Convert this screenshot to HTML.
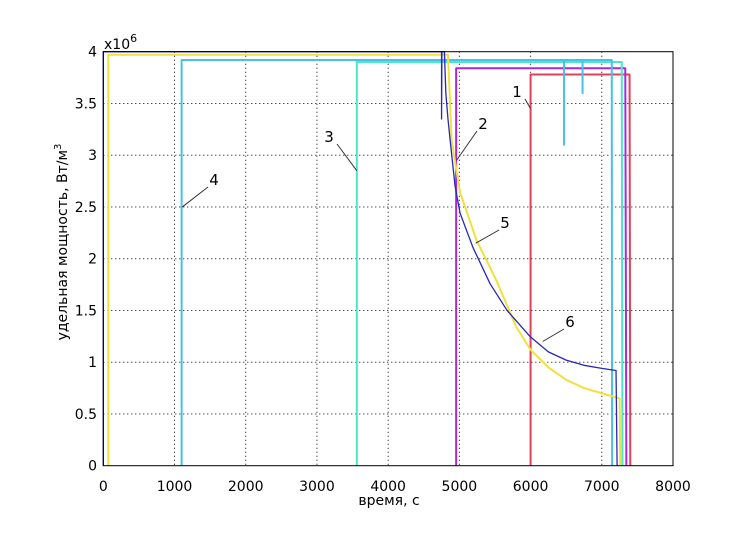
<!DOCTYPE html>
<html><head><meta charset="utf-8"><style>
body{margin:0;background:#fff;}
svg text{font-family:"DejaVu Sans","Liberation Sans",sans-serif;}
</style></head><body>
<svg id="chart" width="743" height="530" viewBox="0 0 743 530" xmlns="http://www.w3.org/2000/svg">
<rect width="743" height="530" fill="#fff"/>
<g id="grid"></g>
<g id="series"></g>
<g id="axes"></g>
<text x="104" y="49" font-size="14">x10<tspan dy="-7" font-size="11">6</tspan></text>
<text x="389" y="505" text-anchor="middle" font-size="14">время, с</text>
<text transform="translate(67,242) rotate(-90)" text-anchor="middle" font-size="14">удельная мощность, Вт/м<tspan dy="-6" font-size="10">3</tspan></text>
</svg>
<script>
const xTicks=[0,1000,2000,3000,4000,5000,6000,7000,8000];
const yTicks=[0,0.5,1,1.5,2,2.5,3,3.5,4];
const yTickLabels=["0","0.5","1","1.5","2","2.5","3","3.5","4"];
// series values: [time s, power 1e6 W/m3]
const s1Red=[[6000,0],[6000,3.78],[7390,3.78],[7400,0]];
const s2Magenta=[[4955,0],[4955,3.84],[7330,3.84],[7345,0]];
const s3Turq=[[3560,0],[3560,3.9],[7280,3.9],[7290,0]];
const s4Cyan=[[1100,0],[1100,3.92],[6470,3.92],[6470,3.1],[6470,3.92],[6730,3.92],[6730,3.6],[6730,3.92],[7140,3.92],[7145,0]];
const s5Yellow=[[70,0],[70,3.97],[4840,3.97],[4870,3.5],[4890,3.15],[5010,2.64],[5240,2.18],[5520,1.79],[5800,1.34],[6000,1.12],[6250,0.95],[6500,0.83],[6750,0.75],[7000,0.7],[7250,0.65],[7260,0]];
const s6Blue=[[0,0],[0,4.0],[4750,4.0],[4750,3.35],[4755,4.0],[4790,4.0],[4810,3.6],[4840,3.35],[4870,3.15],[4940,2.7],[5010,2.44],[5190,2.11],[5430,1.76],[5670,1.5],[5990,1.25],[6250,1.1],[6500,1.02],[6750,0.97],[7000,0.94],[7200,0.92],[7215,0]];
const seriesNames=["1","2","3","4","5","6"];
const labelPos=[[517,97],[483,129],[329,142],[214,185],[505,228],[570,327]];
const labelTarget=[[6000,3.45],[4960,2.95],[3560,2.85],[1110,2.5],[5230,2.15],[6170,1.2]];
const X0=103.3,X1=673,Y0=465.7,Y1=51.7;
const sx=v=>X0+(v-0)/(8000)*(X1-X0);
const sy=v=>Y0-(v/4)*(Y0-Y1);
const NS="http://www.w3.org/2000/svg";
function mk(t,a,p){const e=document.createElementNS(NS,t);for(const k in a)e.setAttribute(k,a[k]);p.appendChild(e);return e;}
const grid=document.getElementById('grid'),axes=document.getElementById('axes'),ser=document.getElementById('series');
xTicks.forEach((v,i)=>{
 if(i>0&&i<xTicks.length-1){const g=mk('line',{x1:sx(v),x2:sx(v),y1:Y1,y2:Y0,stroke:'#000','stroke-width':1,'stroke-dasharray':'1,3'},grid);
 
 }
 const t=mk('text',{x:sx(v),y:491,'text-anchor':'middle','font-size':14},axes);t.textContent=String(v);
 
 
});
yTicks.forEach((v,i)=>{
 if(i>0&&i<yTicks.length-1){const g=mk('line',{x1:X0,x2:X1,y1:sy(v),y2:sy(v),stroke:'#000','stroke-width':1,'stroke-dasharray':'1,3'},grid);
 
 }
 const t=mk('text',{x:97,y:sy(v)+5,'text-anchor':'end','font-size':14},axes);t.textContent=yTickLabels[i];
 
 
});
const box=mk('rect',{x:X0,y:Y1,width:X1-X0,height:Y0-Y1,fill:'none',stroke:'#000','stroke-width':1},axes);


const all=[[s1Red,'#e0405a'],[s2Magenta,'#a828e0'],[s3Turq,'#48e8c8'],[s4Cyan,'#48c0e8'],[s5Yellow,'#f0e040'],[s6Blue,'#2828b8']];
all.forEach(([d,c],i)=>{
 const p=mk('polyline',{points:d.map(q=>sx(q[0])+','+sy(q[1])).join(' '),fill:'none',stroke:c,'stroke-width':i==5?1.3:2,'stroke-linejoin':'round'},ser);
 
 
});
seriesNames.forEach((n,i)=>{
 const [lx,ly]=labelPos[i],[tx,ty]=labelTarget[i];
 const l=mk('line',{x1:lx+(lx<sx(tx)?8:-6),y1:ly+(ly<sy(ty)?2:-6),x2:sx(tx),y2:sy(ty),stroke:'#333','stroke-width':1},ser);
 
 
 const t=mk('text',{x:lx,y:ly,'text-anchor':'middle','font-size':15},ser);t.textContent=n;
 
 
});
</script>
</body></html>
